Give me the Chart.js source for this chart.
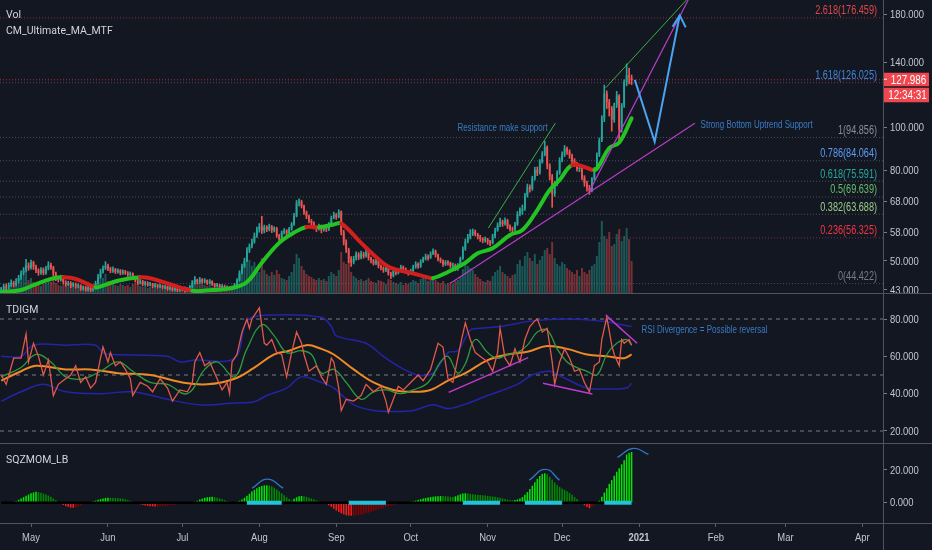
<!DOCTYPE html>
<html><head><meta charset="utf-8">
<script src="https://cdn.jsdelivr.net/npm/chart.js@4.4.1/dist/chart.umd.min.js"></script>
<style>
html,body{margin:0;padding:0;background:#131722;width:932px;height:550px;overflow:hidden;}
.p{position:absolute;left:0;width:932px;}
.t{position:absolute;left:6px;color:#d1d4dc;font:10.5px Roboto,"Liberation Sans",sans-serif;line-height:13px;white-space:nowrap;}
.hl{position:absolute;left:0;width:932px;height:1px;background:#50535e;}
.vl{position:absolute;left:883px;top:0;width:1px;height:550px;background:#50535e;}
</style></head><body>
<div class="p" style="top:0;height:294px"><canvas id="c1" width="932" height="294"></canvas></div>
<div class="p" style="top:294px;height:149px"><canvas id="c2" width="932" height="149"></canvas></div>
<div class="p" style="top:443px;height:107px"><canvas id="c3" width="932" height="107"></canvas></div>
<div class="hl" style="top:293px"></div>
<div class="hl" style="top:443px"></div>
<div class="hl" style="top:523px"></div>
<div class="vl"></div>
<div class="t" style="top:8px">Vol</div>
<div class="t" style="top:24px">CM_Ultimate_MA_MTF</div>
<div class="t" style="top:303px">TDIGM</div>
<div class="t" style="top:453px">SQZMOM_LB</div>
<script>
// ---------- DATA ----------
const firstDay = 1;            // day index 1 = 19 Apr 2020
const firstOpen = 43.0;
const closes = [
43.2,43.8,43.5,44.1,44.6,44.2,45.0,45.8,46.9,47.6,
48.9,48.2,49.6,48.5,47.6,47.0,47.8,46.9,48.1,49.0,
48.3,46.8,45.6,45.3,45.9,44.8,44.2,44.6,43.9,44.3,
43.8,44.0,43.3,43.6,43.1,43.5,43.0,43.4,44.5,46.0,
47.3,48.1,48.8,48.0,47.5,47.9,47.2,47.6,46.9,47.3,
47.0,46.5,46.8,45.9,45.2,44.6,45.0,44.3,44.7,44.1,
44.4,43.8,44.2,43.7,44.0,43.5,43.8,43.2,43.5,43.0,
43.3,42.9,43.4,43.1,42.8,43.2,43.6,44.6,45.3,44.8,
45.4,44.9,45.2,44.5,45.0,44.3,43.9,44.2,43.6,43.9,
43.4,43.7,43.3,43.6,44.2,45.2,47.0,48.6,50.0,52.8,
53.9,55.2,57.0,58.8,59.8,58.5,59.6,58.9,59.8,58.6,
59.2,57.0,55.8,57.9,58.5,57.6,59.0,60.5,63.2,67.5,
68.0,66.4,64.3,63.0,61.5,60.8,59.6,59.0,59.8,58.6,
59.5,58.8,60.4,62.5,63.6,62.8,64.5,58.0,55.2,53.0,
50.4,49.6,50.6,51.8,50.9,51.9,51.2,52.3,50.8,50.1,
49.3,50.0,48.7,48.2,47.6,48.3,46.8,46.3,47.4,47.0,
47.6,48.4,48.0,47.2,46.9,47.5,48.4,49.2,48.6,49.8,
50.5,51.2,50.8,51.9,52.6,51.6,50.4,50.0,49.1,49.7,
49.4,48.6,48.9,47.9,48.8,50.6,53.2,55.3,56.6,57.6,
58.2,57.4,56.6,56.0,55.6,55.9,55.2,54.8,56.8,58.6,
60.2,61.3,60.6,61.7,59.8,59.0,58.8,60.4,63.8,64.9,
65.5,70.2,73.4,72.6,76.8,80.2,79.0,83.5,86.8,90.2,
82.0,77.5,70.8,74.6,78.9,84.2,86.8,89.6,88.2,86.4,
84.0,82.6,80.5,80.9,77.0,74.8,73.0,72.0,76.5,80.4,
86.8,93.5,104.8,119.2,114.0,110.5,104.0,112.5,118.0,99.0,
112.0,126.5,131.0,129.5,127.986];
const highs = [
43.6,44.3,44.4,44.6,45.3,45.0,45.6,46.4,47.5,48.3,
50.4,49.5,50.2,49.9,48.9,48.0,48.3,48.2,48.6,49.8,
49.4,48.6,47.2,46.0,46.4,46.2,45.1,45.0,44.9,44.7,
44.6,44.4,44.2,43.9,43.8,43.8,43.7,43.8,45.0,46.6,
47.9,48.7,49.8,49.2,48.4,48.5,48.1,48.0,47.8,47.7,
47.6,47.3,47.2,47.0,46.2,45.5,45.4,45.2,45.0,44.9,
44.7,44.5,44.5,44.3,44.3,44.1,44.1,43.9,43.8,43.6,
43.6,43.4,43.7,43.6,43.2,43.5,44.0,45.1,46.1,45.5,
45.9,45.6,45.6,45.3,45.4,45.1,44.5,44.5,44.3,44.2,
44.1,43.9,43.8,43.9,44.5,45.6,47.5,49.2,50.7,53.6,
54.6,56.0,57.8,59.6,60.7,63.0,60.2,60.0,60.5,60.1,
59.7,59.5,57.4,58.4,59.1,58.8,59.5,61.0,64.0,68.4,
69.0,68.5,66.8,64.8,63.4,62.0,61.2,60.0,60.5,60.2,
60.0,60.1,61.0,63.1,64.4,64.0,65.2,64.8,58.6,55.8,
53.4,51.1,51.2,52.4,52.2,52.6,52.3,53.0,52.6,51.0,
50.4,50.5,50.2,49.0,48.5,48.8,48.6,47.2,47.9,47.8,
48.0,48.9,48.7,48.2,47.5,47.9,48.9,49.8,49.5,50.3,
51.0,51.8,51.6,52.4,53.2,52.9,51.8,50.8,50.3,50.1,
50.1,49.7,49.4,49.2,49.3,51.0,53.8,56.0,57.4,58.8,
59.0,58.7,57.7,57.1,56.4,56.6,56.2,55.6,57.4,59.3,
60.9,62.4,61.8,62.5,62.0,60.3,59.6,61.1,64.6,65.8,
66.8,71.0,74.5,74.2,77.6,81.3,81.4,84.6,88.2,93.0,
90.8,82.8,78.3,75.6,79.8,85.4,88.0,91.0,90.2,89.0,
87.0,85.0,83.4,82.0,81.5,77.8,75.6,74.0,77.0,81.2,
87.6,94.6,106.2,124.5,120.8,115.6,111.4,113.4,120.5,118.5,
113.2,128.0,139.0,136.0,131.2];
const lows = [
42.6,42.9,43.0,43.2,43.8,43.7,43.9,44.6,45.4,46.4,
47.2,47.6,47.9,47.8,47.0,46.4,46.6,46.5,46.6,47.7,
47.8,46.3,45.1,44.8,45.0,44.4,43.8,43.9,43.5,43.6,
43.4,43.5,42.9,43.0,42.7,42.8,42.6,42.7,43.2,44.3,
45.7,46.9,47.8,47.5,47.0,47.1,46.8,46.9,46.5,46.6,
46.6,46.1,46.2,45.5,44.8,44.2,44.3,43.9,44.0,43.8,
43.9,43.5,43.6,43.4,43.5,43.2,43.3,42.9,43.0,42.7,
42.8,42.6,42.7,42.8,42.5,42.6,43.0,43.4,44.3,44.4,
44.5,44.5,44.6,44.2,44.3,44.0,43.6,43.7,43.3,43.4,
43.1,43.1,43.0,43.1,43.4,44.0,45.0,46.7,48.3,49.8,
52.2,53.5,54.8,56.5,58.0,57.6,57.8,58.2,58.4,57.9,
58.1,56.5,55.0,55.5,57.5,57.0,57.2,58.6,60.1,62.8,
66.5,65.8,63.6,62.2,60.9,60.1,59.0,58.2,58.6,57.8,
58.3,58.2,58.5,60.0,62.2,62.0,62.5,57.2,54.3,52.2,
49.5,48.6,49.2,50.2,50.3,50.5,50.7,51.0,50.2,49.5,
48.9,49.0,48.2,47.7,47.1,47.3,46.4,45.6,46.0,46.5,
46.7,47.3,47.5,46.8,46.4,46.6,47.2,48.1,48.1,48.3,
49.6,50.2,50.2,50.6,51.6,51.0,50.0,49.5,48.6,48.8,
48.9,48.2,48.2,47.5,47.6,48.5,50.4,52.8,54.9,56.0,
57.0,56.9,56.0,55.3,54.9,55.1,54.5,54.1,54.6,56.3,
58.3,59.7,59.8,60.2,59.1,58.3,57.9,58.5,60.1,63.1,
63.6,65.0,69.6,71.4,72.1,76.0,77.8,78.4,83.0,86.2,
80.6,76.1,66.0,69.9,73.8,78.3,83.6,85.9,86.9,85.1,
83.0,81.6,79.6,79.4,76.1,73.6,71.8,70.6,71.5,76.0,
79.8,85.9,92.8,103.0,110.2,106.0,98.0,102.6,110.8,92.5,
97.5,110.8,124.0,125.2,124.8];
// volume (relative units)
const volumes = [
6,5,7,6,9,8,10,12,15,18, 22,14,16,12,10,9,8,10,11,13, 12,15,11,9,8,10,8,7,9,6,
7,6,8,5,7,6,8,7,10,14, 18,16,20,13,11,10,9,8,10,9, 8,9,7,10,11,9,8,7,8,6,
7,6,8,6,7,5,6,8,6,7, 6,7,5,6,8,7,9,14,16,11, 12,10,9,8,9,7,8,7,6,8,
7,6,8,7,9,14,20,24,30,38, 34,28,32,26,22,36,24,20,18,22, 19,24,20,16,15,14,18,22,30,40,
36,28,24,20,18,17,15,14,16,14, 15,13,18,22,20,18,24,42,32,30, 34,22,18,16,14,15,13,14,16,13,
12,11,14,13,12,10,15,14,12,11, 10,12,9,11,10,12,14,13,11,15, 17,16,13,15,18,14,12,11,13,10,
11,12,10,13,14,18,25,30,28,26, 24,20,17,15,13,12,14,13,18,22, 24,28,22,20,18,16,19,20,30,34,
28,38,42,36,33,40,30,34,38,44, 46,40,52,36,30,28,32,30,26,24, 22,20,24,18,26,22,20,24,28,30,
38,52,73,58,55,62,48,50,60,65, 53,58,66,55,33];
// CM Ultimate MA
const maDays = [1,9,14,22,26,31,39,41,48,57,61,69,78,86,94,100,106,113,119,124,129,135,138,146,152,158,166,173,175,181,188,193,199,206,211,217,222,226,231,236,240,242,246,250,255];
const maVals = [42.5,43.0,44.1,45.7,45.9,45.5,43.6,43.8,45.1,45.9,45.7,44.3,42.8,43.0,43.4,44.8,49.5,54.9,57.9,59.6,59.5,60.4,60.7,54.9,51.0,48.2,47.0,45.9,45.7,47.2,49.5,52.0,53.4,57.2,58.7,65.1,72.2,76.1,82.2,81.4,80.1,82.2,89.8,92.4,104.8];
// Fibonacci retracement
const fibRatios = ['2.618','1.618','1','0.786','0.618','0.5','0.382','0.236','0'];
const fibPrices = [176.459,126.025,94.856,84.064,75.591,69.639,63.688,56.325,44.422];
// TDIGM (RSI) panel
const rsiDays = [1,3,6,9,11,12,14,16,18,20,22,24,26,29,31,33,35,37,39,41,42,44,45,47,49,51,53,54,57,60,62,65,68,70,73,76,78,79,81,83,85,88,90,92,93,94,96,98,100,101,102,105,107,108,110,112,114,116,118,120,122,123,125,128,130,132,134,135,137,138,140,143,146,148,151,154,156,157,159,161,163,166,169,171,174,177,179,181,183,186,188,190,192,195,197,199,201,202,204,206,208,210,212,214,216,217,219,221,223,224,226,228,230,232,234,236,238,240,242,243,245,247,248,250,251,252,254,255];
const rsiVals = [50,45,59,59,72,57,67,60,50,58,39,45,47,50,55,46,49,43,46,59,65,57,62,55,57,53,48,39,46,44,41,48,43,36,42,41,46,57,62,55,57,48,42,46,40,57,61,73,80,75,80,86,67,66,69,62,61,49,62,73,67,61,52,55,49,45,59,57,43,31,37,36,39,45,41,44,36,30,37,44,42,46,50,47,53,67,65,48,46,66,78,69,62,59,57,52,62,75,59,55,64,57,69,76,79,80,73,75,57,45,57,64,59,52,53,46,41,55,57,69,81,66,61,55,69,67,69,66];
const sigDays = [1,9,15,21,27,34,41,48,54,61,68,76,83,88,95,100,106,111,116,122,126,130,135,140,146,151,156,162,167,173,178,181,185,188,192,197,201,205,209,213,217,221,225,229,233,237,241,245,249,253,255];
const sigVals = [49,54,61,57,49,48,52,57,52,46,45,40,53,57,49,64,77,71,62,63,61,51,53,46,37,41,42,40,42,46,57,60,51,56,69,62,59,61,62,66,73,74,64,57,54,52,50,61,67,69,66];
const slowDays = [1,9,15,27,37,48,61,74,84,95,103,111,117,124,130,135,143,151,159,167,174,181,188,197,205,213,221,229,237,245,252,255];
const slowVals = [47,52,55,53,53,51,50,46,45,48,54,61,63,66,64,61,53,46,42,41,42,47,51,58,61,62.5,65.5,64,61,60,59,61];
const upDays = [1,9,14,27,39,42,46,68,73,79,95,100,107,130,134,136,148,155,162,169,175,181,185,190,194,202,215,229,242,255];
const upVals = [60,60,66,66,66,62,61,60,57,58,59,79,82,81,76,71,67,60,54,50,51,62,63,74,75,76,79,80,79,76];
const loDays = [1,9,18,27,41,54,68,81,95,103,108,116,122,130,135,143,151,159,167,175,181,188,197,209,215,222,227,237,245,253,255];
const loVals = [36,41,45,41,40,41,37,34,35,35.7,39,43,49,46,43,34,31,30.5,31,34,32,34.4,39,45,50,52,49,43,42.5,43,45.6];
// SQZMOM_LB histogram (daily)
const sqzVals = [
-0.4,-0.3,-0.2,0.1,0.3,
0.6,1.1,1.8,2.6,3.4,4.2,5.0,5.8,6.3,6.7,
6.5,6.1,5.6,5.0,4.4,3.6,2.6,1.5,
0.4,-0.6,-1.4,-2.1,-2.6,-3.0,-3.1,-2.9,-2.4,-1.6,-0.8,
-0.3,0.2,0.5,0.9,1.3,1.8,
2.2,2.6,2.9,3.1,3.0,2.9,2.8,2.7,2.6,2.4,2.1,1.7,1.2,0.6,
-0.1,-0.6,-1.0,-1.4,-1.7,-1.9,-2.1,-2.2,-2.3,-2.3,-2.2,-2.1,-2.0,-1.8,-1.6,-1.4,-1.2,-1.0,-0.8,-0.6,-0.5,-0.3,-0.2,0.0,
0.6,1.2,1.9,2.5,3.0,3.3,3.5,3.6,3.4,3.0,2.6,2.1,1.6,1.0,
0.6,0.4,0.3,0.6,1.2,2.0,3.0,
4.2,5.5,6.8,7.9,8.9,9.7,10.2,10.6,10.7,10.5,10.0,9.2,8.2,7.0,5.8,4.6,3.4,2.3,
1.5,2.4,3.3,3.9,4.1,3.9,3.6,3.1,2.6,2.0,1.4,0.8,0.3,-0.2,
-0.8,-1.6,-2.6,-3.7,-4.8,-5.7,-6.5,-7.1,-7.6,-7.9,-8.0,-8.0,-7.8,-7.5,-7.2,-6.9,-6.5,-6.1,-5.6,-5.1,-4.6,-4.1,-3.6,-3.1,-2.6,-2.1,-1.7,-1.3,-1.0,-0.7,-0.4,
-0.2,0.1,0.3,0.6,0.9,
1.3,1.7,2.1,2.5,2.9,3.2,3.5,3.7,3.9,4.0,4.1,4.1,4.0,3.8,3.6,3.5,3.9,4.6,5.2,5.6,5.8,
5.6,5.4,5.2,5.0,4.8,4.7,4.5,4.4,4.2,4.0,3.8,3.6,3.3,3.0,
2.6,2.2,1.9,1.6,1.5,1.6,2.0,2.6,3.5,
4.8,6.5,8.4,10.4,12.5,14.6,16.4,17.6,18.0,17.4,15.9,14.2,12.4,10.8,9.6,8.7,
7.9,7.0,6.0,4.8,3.5,2.2,1.0,
-0.5,-1.6,-2.6,-3.4,-2.8,-1.6,-0.4,
1.2,3.6,6.2,8.8,11.5,13.8,16.5,18.9,21.0,23.5,26.0,29.4,30.4,31.0];
const sqzOnRanges = [[100,114],[141,156],[187,202],[212,227],[244,255]];
// axis ticks
const monthTicks = [13,44,74,105,136,166,197,227,258,289,317,348];
const monthLabels = ['May','Jun','Jul','Aug','Sep','Oct','Nov','Dec','2021','Feb','Mar','Apr'];
const priceTicks = [43,50,58,68,80,100,140,180];
const rsiTicks = [20,40,60,80];
const rsiLevels = [80,50,20];
const sqzTicks = [0,20];
const countdown = '12:34:31';

// ---------- drawings (in date/value space) ----------
const greenLines = [[[197.3,59.3],[224.3,102.2]],[[244.6,122.8],[277.1,193.6]]];
const magentaLines = [[[182.0,44.5],[280.5,102.1]],[[238.1,71.9],[277.8,193.6]]];
const arrowPath = [[256.3,127.9],[264.3,92.8],[274.4,178.9]];
const arrowHead = [[271.5,168.5],[274.4,178.9],[276.8,168.0]];
const rsiMagenta = [[[181.3,40.7],[213.3,59.3]],[[219.3,45.6],[239.2,39.8]],[[244.6,82.1],[257.2,67.0]]];
const sqzArcs = [[[102.1,8.9],[108.2,14.4],[114.6,8.9]],[[213.8,13.8],[220.3,20.4],[225.9,13.8]],[[249.3,27.7],[255.7,33.2],[261.8,29.5]]];
const notesMain = [{text:'Resistance make support',x:184.8,y:99.6},{text:'Strong Bottom Uptrend Support',x:282.8,y:101.2}];
const notesRsi = [{text:'RSI Divergence = Possible reversal',x:259,y:74.1}];

// ---------- styles ----------
const BASEF = '"Liberation Sans",Arial,sans-serif';
const SX = 0.82;   // narrow rendering of scale/label text
const AXC = '#c3c6ce';
const UP = '#26a69a', DOWN = '#ef5350';
const fibColors = ['#e0474c','#3f87d6','#8a8e99','#5b9cf6','#26a69a','#66bb6a','#9ccc8a','#f23645','#787b86'];
const fibLineColors = ['rgba(224,71,76,0.55)','rgba(160,80,140,0.6)','rgba(120,123,134,0.55)','rgba(120,123,134,0.55)','rgba(100,140,135,0.55)','rgba(120,130,120,0.55)','rgba(120,130,120,0.55)','rgba(200,70,90,0.55)','rgba(120,123,134,0.55)'];
const X_MIN = 0.5, X_MAX = 356.3;

Chart.defaults.font.family = BASEF;
Chart.defaults.font.size = 11;
Chart.defaults.color = AXC;
Chart.defaults.animation = false;
Chart.defaults.events = [];
Chart.defaults.plugins.legend.display = false;
Chart.defaults.plugins.tooltip.enabled = false;
Chart.defaults.elements.point.radius = 0;

const days = closes.map((_, i) => firstDay + i);
const opens = closes.map((c, i) => i === 0 ? firstOpen : closes[i - 1]);
const candleCol = closes.map((c, i) => c >= opens[i] ? UP : DOWN);
const volCol = closes.map((c, i) => c >= opens[i] ? 'rgba(38,166,154,0.45)' : 'rgba(239,83,80,0.45)');
const xy = (xs, ys) => xs.map((x, i) => ({x, y: ys[i]}));
const pts = arr => arr.map(p => ({x: p[0], y: p[1]}));

function narrowText(ctx, text, x, y, font, color, align, baseline, sx) {
  ctx.save();
  ctx.font = font; ctx.fillStyle = color; ctx.textAlign = align; ctx.textBaseline = baseline;
  ctx.translate(x, y); ctx.scale(sx, 1); ctx.fillText(text, 0, 0);
  ctx.restore();
}

function xScale(show) {
  return {
    type: 'linear', min: X_MIN, max: X_MAX, offset: false, display: show,
    grid: {display: show, drawOnChartArea: false, drawTicks: true, tickLength: 4, color: '#5d606b', offset: false},
    border: {display: false},
    afterBuildTicks: s => { s.ticks = monthTicks.map(v => ({value: v})); },
    afterFit: s => { s.paddingLeft = 0; s.paddingRight = 0; if (show) s.height = 27; },
    ticks: {display: false, autoSkip: false, maxRotation: 0}
  };
}
function yScale(type, min, max, ticks) {
  return {
    type, position: 'right', min, max,
    afterBuildTicks: s => { s.ticks = ticks.map(v => ({value: v})); },
    afterFit: s => { s.width = 49; s.paddingTop = 0; s.paddingBottom = 0; },
    grid: {drawOnChartArea: false, drawTicks: true, tickLength: 4, color: '#787b86'},
    border: {display: false},
    ticks: {display: false, autoSkip: false}
  };
}
// draws the scale labels in a narrow face (the reference uses a condensed UI font)
const axisLabels = {
  id: 'axisLabels',
  afterDraw(chart) {
    const {ctx, chartArea} = chart, y = chart.scales.y, x = chart.scales.x;
    y.ticks.forEach(t => narrowText(ctx, Number(t.value).toFixed(3), chartArea.right + 7, y.getPixelForValue(t.value) + 0.5,
      '11.5px ' + BASEF, AXC, 'left', 'middle', SX));
    if (x.options.display) {
      x.ticks.forEach(t => {
        const lab = monthLabels[monthTicks.indexOf(t.value)];
        narrowText(ctx, lab, x.getPixelForValue(t.value), x.top + 14.5,
          (lab === '2021' ? 'bold ' : '') + '11.5px ' + BASEF, AXC, 'center', 'middle', SX);
      });
    }
  }
};
const lineDs = (data, color, width, extra) => Object.assign({type: 'line', data, borderColor: color, borderWidth: width, pointRadius: 0, fill: false, tension: 0}, extra || {});

// ---------- Chart 1: price ----------
const lastClose = closes[closes.length - 1];
const ds1 = [];
ds1.push({type: 'bar', data: xy(days, volumes), yAxisID: 'yv', backgroundColor: volCol, grouped: false, barPercentage: 0.8, categoryPercentage: 1, order: 20});
fibPrices.forEach((p, i) => ds1.push(lineDs([{x: X_MIN, y: p}, {x: X_MAX, y: p}], fibLineColors[i], 1, {borderDash: [1, 2], order: 15})));
ds1.push(lineDs([{x: X_MIN, y: lastClose}, {x: X_MAX, y: lastClose}], 'rgba(242,54,69,0.7)', 1, {borderDash: [1, 2], order: 14}));
ds1.push({type: 'bar', data: days.map((d, i) => ({x: d, y: [lows[i], highs[i]]})), backgroundColor: candleCol, grouped: false, barThickness: 1, order: 12});
ds1.push({type: 'bar', data: days.map((d, i) => ({x: d, y: [opens[i], closes[i]]})), backgroundColor: candleCol, grouped: false, barPercentage: 0.72, categoryPercentage: 1, minBarLength: 1, order: 11});
ds1.push(lineDs(xy(maDays, maVals), '#22c322', 4, {tension: 0.4, order: 8, borderCapStyle: 'round',
  segment: {borderColor: c => c.p1.parsed.y >= c.p0.parsed.y ? '#22c322' : '#d41f1f'}}));
greenLines.forEach(l => ds1.push(lineDs(pts(l), '#3cb043', 1, {order: 3})));
magentaLines.forEach(l => ds1.push(lineDs(pts(l), '#b83dc8', 1.2, {order: 3})));
ds1.push(lineDs(pts(arrowPath), '#4aa3f0', 2, {order: 2}));
ds1.push(lineDs(pts(arrowHead), '#4aa3f0', 2, {order: 2}));

const notesPlugin = (notes, yId) => ({
  id: 'notes',
  afterDatasetsDraw(chart) {
    const {ctx} = chart, x = chart.scales.x, y = chart.scales[yId];
    notes.forEach(n => narrowText(ctx, n.text, x.getPixelForValue(n.x), y.getPixelForValue(n.y),
      '10px ' + BASEF, '#3a7bc2', 'left', 'middle', 0.8));
  }
});
const fibPlugin = {
  id: 'fib',
  afterDraw(chart) {
    const {ctx, chartArea} = chart, y = chart.scales.y;
    fibRatios.forEach((r, i) => narrowText(ctx, r + '(' + fibPrices[i].toFixed(3) + ')', chartArea.right - 6,
      y.getPixelForValue(fibPrices[i]) - 1, '12px ' + BASEF, fibColors[i], 'right', 'bottom', 0.76));
    // last price label + countdown
    const py = y.getPixelForValue(lastClose), bx = chartArea.right + 1, bw = 45;
    ctx.save();
    ctx.fillStyle = '#f0474f';
    ctx.fillRect(bx, py - 7, bw, 13.5);
    ctx.fillRect(bx, py + 8, bw, 14.5);
    ctx.strokeStyle = '#ffffff'; ctx.lineWidth = 1;
    ctx.beginPath(); ctx.moveTo(bx, py - 0.5); ctx.lineTo(bx + 3, py - 0.5); ctx.stroke();
    ctx.restore();
    narrowText(ctx, lastClose.toFixed(3), bx + bw / 2 + 2, py + 0.5, '12px ' + BASEF, '#ffffff', 'center', 'middle', SX);
    narrowText(ctx, countdown, bx + bw / 2 + 1, py + 15.8, '12px ' + BASEF, '#ffffff', 'center', 'middle', SX);
  }
};

new Chart(document.getElementById('c1'), {
  type: 'bar',
  data: {datasets: ds1},
  options: {
    responsive: false, maintainAspectRatio: false, layout: {padding: 0},
    scales: {
      x: xScale(false),
      y: yScale('logarithmic', 42.1, 193.6, priceTicks),
      yv: {type: 'linear', display: false, min: 0, max: 294}
    }
  },
  plugins: [notesPlugin(notesMain, 'y'), fibPlugin, axisLabels]
});

// ---------- Chart 2: TDIGM ----------
const ds2 = [];
rsiLevels.forEach(v => ds2.push(lineDs([{x: X_MIN, y: v}, {x: X_MAX, y: v}], '#787b86', 1, {borderDash: [4, 4], order: 20})));
ds2.push(lineDs(xy(upDays, upVals), '#2424a8', 1.5, {tension: 0.35, order: 10}));
ds2.push(lineDs(xy(loDays, loVals), '#2424a8', 1.5, {tension: 0.35, order: 10}));
ds2.push(lineDs(xy(slowDays, slowVals), '#f08a24', 2, {tension: 0.4, order: 9}));
ds2.push(lineDs(xy(sigDays, sigVals), '#2e9a3c', 1.3, {tension: 0.4, order: 8}));
ds2.push(lineDs(xy(rsiDays, rsiVals), '#e05a4a', 1.3, {order: 7}));
rsiMagenta.forEach(l => ds2.push(lineDs(pts(l), '#c03ad0', 1.5, {order: 3})));
new Chart(document.getElementById('c2'), {
  type: 'line',
  data: {datasets: ds2},
  options: {
    responsive: false, maintainAspectRatio: false, layout: {padding: 0},
    scales: {x: xScale(false), y: yScale('linear', 13.57, 93.4, rsiTicks)}
  },
  plugins: [notesPlugin(notesRsi, 'y'), axisLabels]
});

// ---------- Chart 3: SQZMOM ----------
const sqzCol = sqzVals.map((v, i) => {
  const p = i > 0 ? sqzVals[i - 1] : 0;
  if (v >= 0) return v > p ? '#00e600' : '#008a00';
  return v < p ? '#ff1a1a' : '#8b0000';
});
const ds3 = [];
ds3.push({type: 'bar', data: xy(days, sqzVals), backgroundColor: sqzCol, grouped: false, barPercentage: 0.62, categoryPercentage: 1, order: 10});
ds3.push(lineDs([{x: days[0], y: 0}, {x: days[days.length - 1], y: 0}], '#000000', 2.5, {order: 5}));
sqzOnRanges.forEach(r => ds3.push(lineDs([{x: r[0], y: 0}, {x: r[1], y: 0}], '#22c3da', 4, {order: 4})));
sqzArcs.forEach(a => ds3.push(lineDs(pts(a), '#2f75c0', 1.4, {tension: 0.5, order: 2})));
new Chart(document.getElementById('c3'), {
  type: 'bar',
  data: {datasets: ds3},
  options: {
    responsive: false, maintainAspectRatio: false, layout: {padding: 0},
    scales: {x: xScale(true), y: yScale('linear', -12.4, 36.5, sqzTicks)}
  },
  plugins: [axisLabels]
});
</script>
</body></html>
